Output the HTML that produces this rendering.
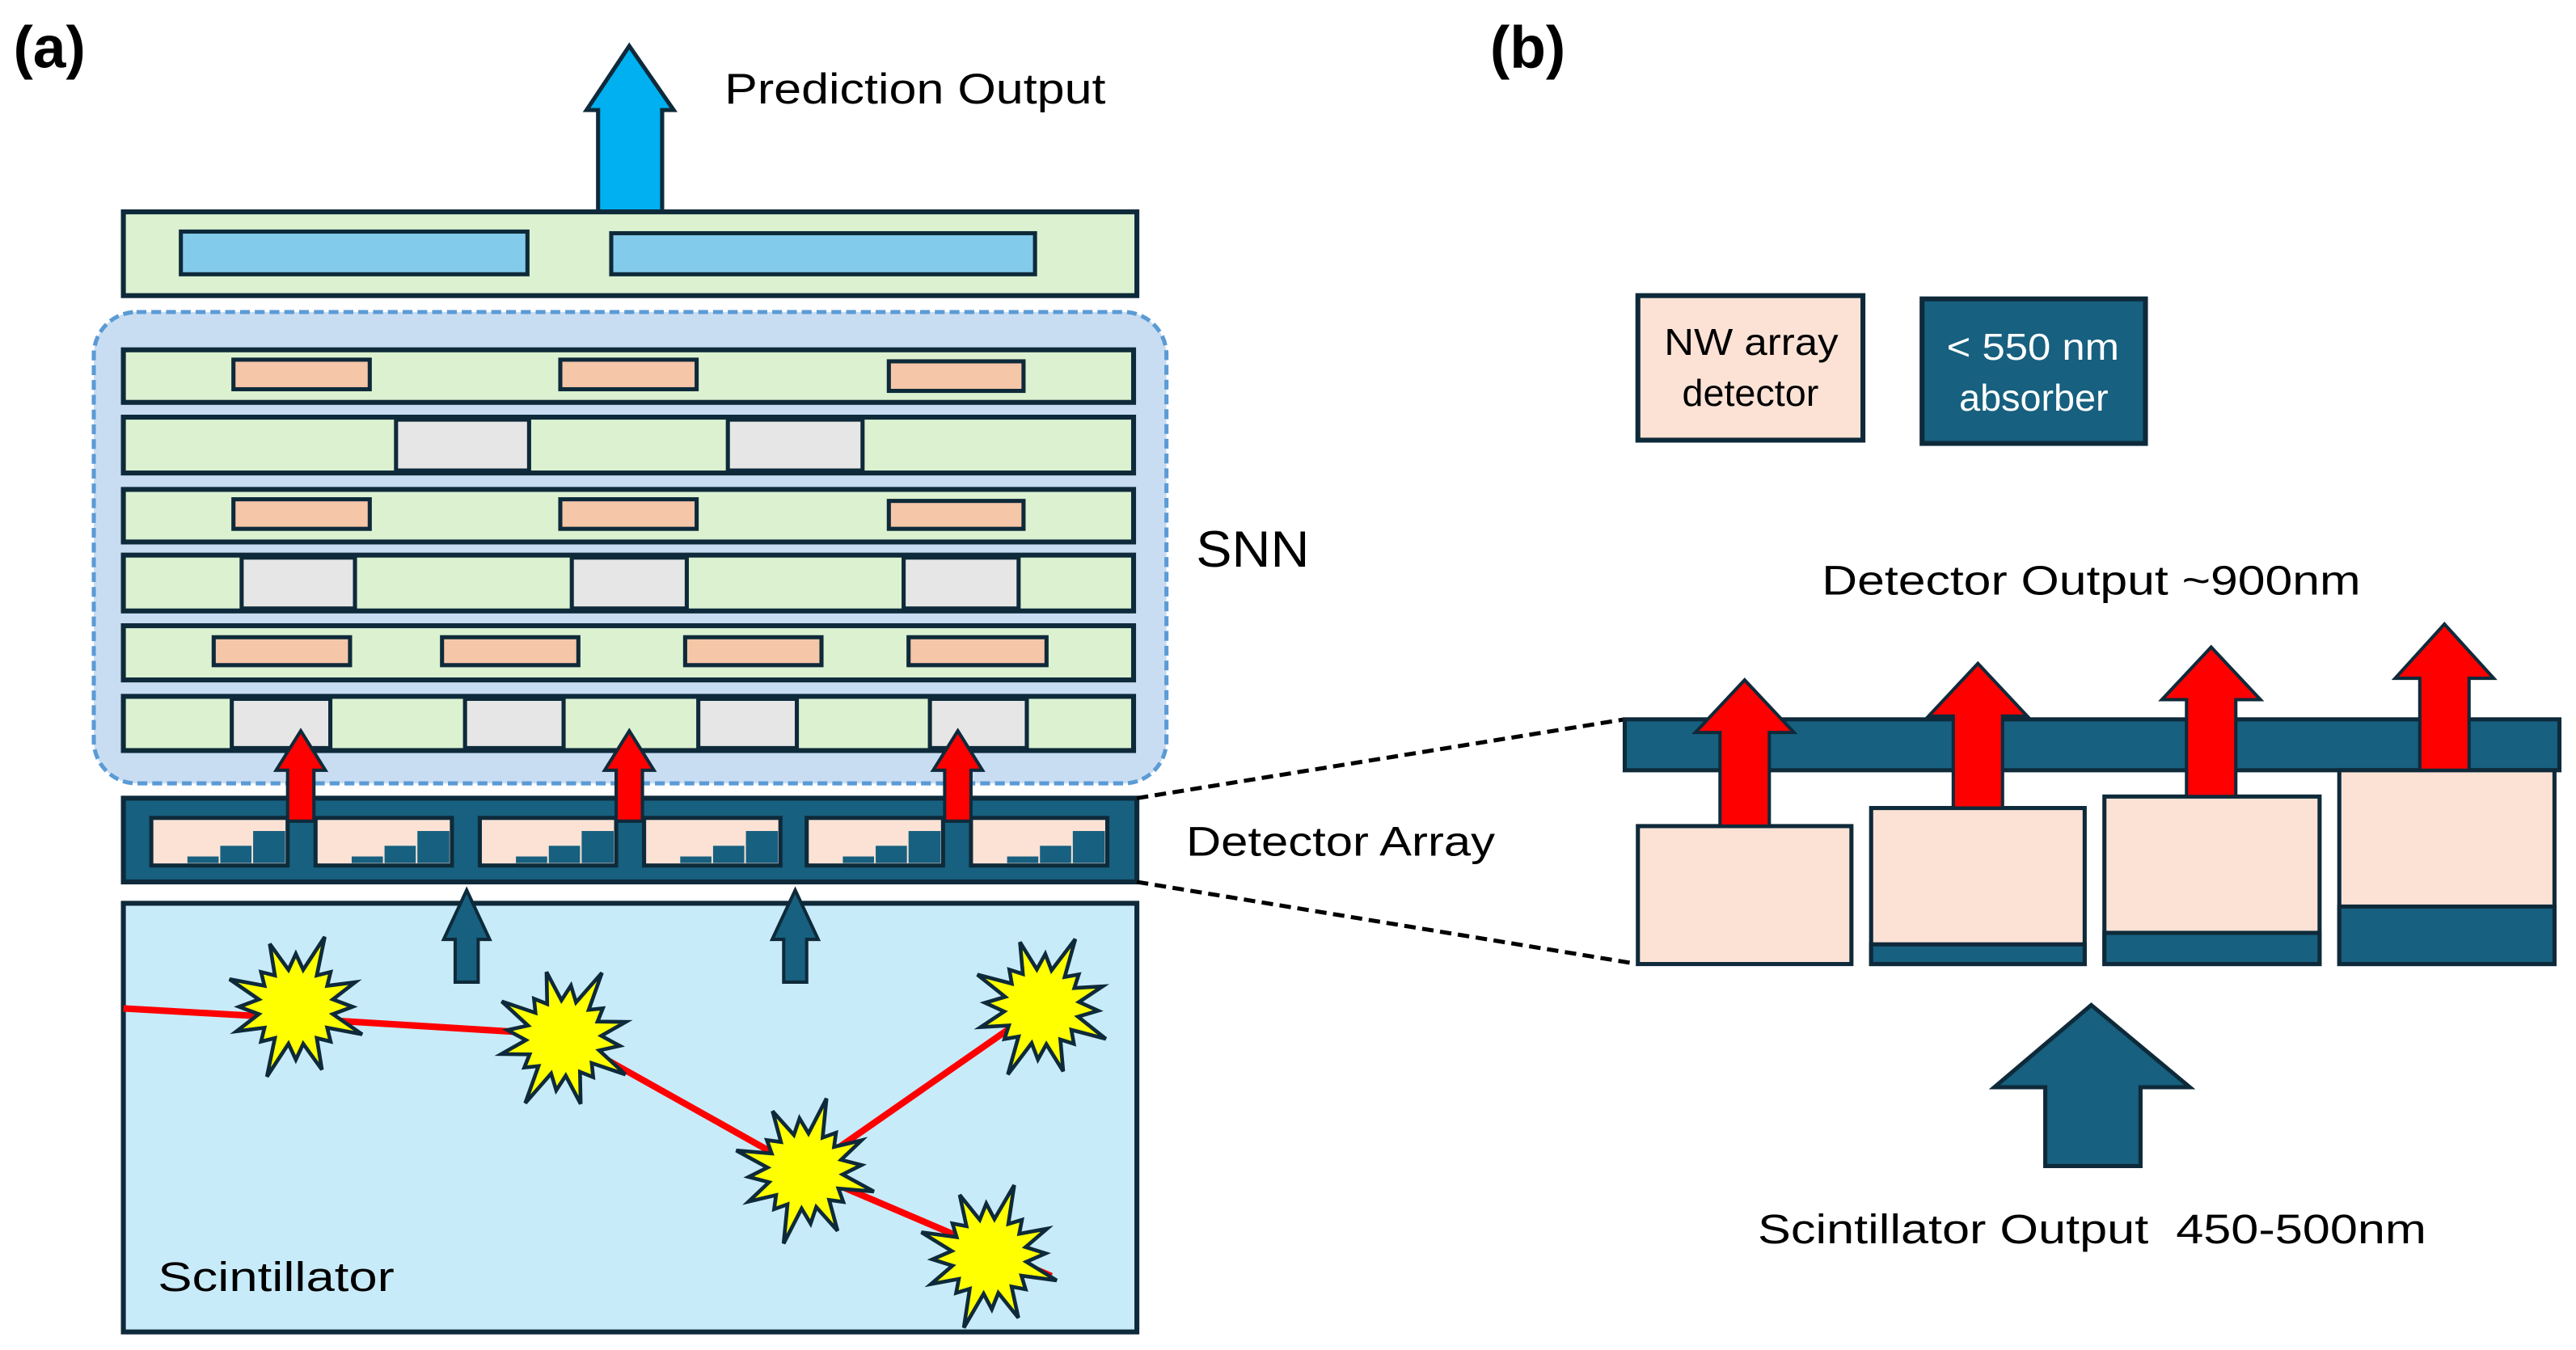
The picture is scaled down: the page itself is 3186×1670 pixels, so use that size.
<!DOCTYPE html>
<html><head><meta charset="utf-8"><style>
html,body{margin:0;padding:0;background:#fff;}
svg{display:block;}
text{font-family:"Liberation Sans",sans-serif;fill:#000;}
</style></head><body>
<svg width="3186" height="1670" viewBox="0 0 1568 822" xmlns="http://www.w3.org/2000/svg">
<defs>
<polygon id="star" points="30,0 19.6,3.9 35.1,14.6 16.6,11.1 18.4,18.4 11.1,16.6 13.8,33.3 3.9,19.6 0,28 -3.9,19.6 -15.3,37 -11.1,16.6 -18.4,18.4 -16.6,11.1 -31.4,13 -19.6,3.9 -30,0 -19.6,-3.9 -35.1,-14.6 -16.6,-11.1 -18.4,-18.4 -11.1,-16.6 -13.8,-33.3 -3.9,-19.6 0,-28 3.9,-19.6 15.3,-37 11.1,-16.6 18.4,-18.4 16.6,-11.1 31.4,-13 19.6,-3.9" fill="#ffff00" stroke="#0e2a3a" stroke-width="2" stroke-linejoin="miter"/>
<g id="cell">
<rect x="0" y="0" width="83" height="29" fill="#fbe2d5" stroke="#0e2a3a" stroke-width="2.5"/>
<rect x="22" y="23.5" width="19" height="4" fill="#17607f"/>
<rect x="42" y="17" width="19" height="10.5" fill="#17607f"/>
<rect x="62" y="8" width="19.5" height="19.5" fill="#17607f"/>
</g>
<polygon id="redarr" points="0,0 15,24 8,24 8,55 -8,55 -8,24 -15,24" fill="#ff0000" stroke="#0e2a3a" stroke-width="2"/>
</defs>

<text x="8" y="41" font-size="36" font-weight="bold">(a)</text>
<text x="907" y="41" font-size="36" font-weight="bold">(b)</text>

<polygon points="383,28 410,67 403,67 403,129 364,129 364,67 357,67" fill="#00b0f0" stroke="#0e2a3a" stroke-width="2.5"/>
<text x="441" y="63" font-size="26" textLength="232" lengthAdjust="spacingAndGlyphs">Prediction Output</text>

<rect x="75" y="129" width="617" height="51" fill="#dbf1d0" stroke="#0e2a3a" stroke-width="3"/>
<rect x="110" y="141" width="211" height="26" fill="#83cbeb" stroke="#0e2a3a" stroke-width="2.5"/>
<rect x="372" y="142" width="258" height="25" fill="#83cbeb" stroke="#0e2a3a" stroke-width="2.5"/>

<rect x="57" y="190" width="653" height="287" rx="26" fill="#c9ddf2" stroke="#5b9bd5" stroke-width="2.5" stroke-dasharray="6,3"/>

<g stroke="#0e2a3a" stroke-width="3">
<rect x="75" y="213" width="615" height="32" fill="#dbf1d0"/>
<rect x="75" y="254" width="615" height="34" fill="#dbf1d0"/>
<rect x="75" y="298" width="615" height="32" fill="#dbf1d0"/>
<rect x="75" y="338" width="615" height="34" fill="#dbf1d0"/>
<rect x="75" y="381" width="615" height="33" fill="#dbf1d0"/>
<rect x="75" y="424" width="615" height="33" fill="#dbf1d0"/>
</g>
<g stroke="#0e2a3a" stroke-width="2.5" fill="#f5c6a8">
<rect x="142" y="219" width="83" height="18"/><rect x="341" y="219" width="83" height="18"/><rect x="541" y="220" width="82" height="18"/>
<rect x="142" y="304" width="83" height="18"/><rect x="341" y="304" width="83" height="18"/><rect x="541" y="305" width="82" height="17"/>
<rect x="130" y="388" width="83" height="17"/><rect x="269" y="388" width="83" height="17"/><rect x="417" y="388" width="83" height="17"/><rect x="553" y="388" width="84" height="17"/>
</g>
<g stroke="#0e2a3a" stroke-width="2.5" fill="#e6e6e6">
<rect x="241" y="255.5" width="81" height="31"/><rect x="443" y="255.5" width="82" height="31"/>
<rect x="147" y="339.5" width="69" height="31"/><rect x="348" y="339.5" width="70" height="31"/><rect x="550" y="339.5" width="70" height="31"/>
<rect x="141" y="425.5" width="60" height="30"/><rect x="283" y="425.5" width="60" height="30"/><rect x="425" y="425.5" width="60" height="30"/><rect x="566" y="425.5" width="59" height="30"/>
</g>
<text x="728" y="345" font-size="31" textLength="69" lengthAdjust="spacingAndGlyphs">SNN</text>

<rect x="75" y="486" width="617" height="51" fill="#17607f" stroke="#0e2a3a" stroke-width="3"/>
<use href="#cell" x="92" y="498"/><use href="#cell" x="192" y="498"/><use href="#cell" x="292" y="498"/>
<use href="#cell" x="392" y="498"/><use href="#cell" x="491" y="498"/><use href="#cell" x="591" y="498"/>
<use href="#redarr" x="183" y="445"/><use href="#redarr" x="383" y="445"/><use href="#redarr" x="583" y="445"/>
<text x="722" y="521" font-size="25" textLength="188" lengthAdjust="spacingAndGlyphs">Detector Array</text>

<rect x="75" y="550" width="617" height="261" fill="#c8ebf9" stroke="#0e2a3a" stroke-width="3"/>
<g fill="#17607f" stroke="#0e2a3a" stroke-width="2">
<polygon points="284,542 298,572 291,572 291,598 277,598 277,572 270,572"/>
<polygon points="484,542 498,572 491,572 491,598 477,598 477,572 470,572"/>
</g>
<g stroke="#ff0000" stroke-width="4" fill="none">
<polyline points="75,614 180,620 342,630 490,713 635,612"/>
<line x1="490" y1="713" x2="640" y2="777"/>
</g>
<use href="#star" transform="translate(180,613) scale(1.15)"/>
<use href="#star" transform="translate(343,632) rotate(8) scale(1.15)"/>
<use href="#star" transform="translate(490,713) rotate(-6) scale(1.15)"/>
<use href="#star" transform="translate(634,613) rotate(4) scale(1.15)"/>
<use href="#star" transform="translate(602,765) rotate(-3) scale(1.15)"/>
<text x="96" y="786" font-size="25" textLength="144" lengthAdjust="spacingAndGlyphs">Scintillator</text>

<g stroke="#000" stroke-width="2.5" stroke-dasharray="7,4">
<line x1="692" y1="486" x2="989" y2="438"/>
<line x1="692" y1="537" x2="997" y2="587"/>
</g>

<rect x="997" y="180" width="137" height="88" fill="#fbe2d5" stroke="#0e2a3a" stroke-width="3"/>
<text x="1013" y="216" font-size="23" textLength="106" lengthAdjust="spacingAndGlyphs">NW array</text>
<text x="1065.5" y="247" font-size="23" text-anchor="middle">detector</text>
<rect x="1170" y="182" width="136" height="88" fill="#17607f" stroke="#0e2a3a" stroke-width="3"/>
<text x="1185" y="219" font-size="23" textLength="105" lengthAdjust="spacingAndGlyphs" style="fill:#fff">&lt; 550 nm</text>
<text x="1238" y="250" font-size="23" text-anchor="middle" style="fill:#fff">absorber</text>

<text x="1109" y="362" font-size="25" textLength="328" lengthAdjust="spacingAndGlyphs">Detector Output ~900nm</text>

<rect x="989" y="438" width="569" height="31" fill="#17607f" stroke="#0e2a3a" stroke-width="2.5"/>
<g stroke="#0e2a3a" stroke-width="2.5">
<rect x="997" y="503" width="130" height="84" fill="#fbe2d5"/>
<rect x="1139" y="492" width="130" height="95" fill="#fbe2d5"/>
<rect x="1139" y="575" width="130" height="12" fill="#17607f"/>
<rect x="1281" y="485" width="131" height="102" fill="#fbe2d5"/>
<rect x="1281" y="568" width="131" height="19" fill="#17607f"/>
<rect x="1424" y="469" width="131" height="118" fill="#fbe2d5"/>
<rect x="1424" y="552" width="131" height="35" fill="#17607f"/>
</g>
<g fill="#ff0000" stroke="#0e2a3a" stroke-width="2">
<polygon points="1062,414 1092,446 1077,446 1077,503 1047,503 1047,446 1032,446"/>
<polygon points="1204,404 1234,436 1219,436 1219,492 1189,492 1189,436 1174,436"/>
<polygon points="1346,394 1376,426 1361,426 1361,485 1331,485 1331,426 1316,426"/>
<polygon points="1488,380 1518,413 1503,413 1503,469 1473,469 1473,413 1458,413"/>
</g>
<polygon points="1273,612 1333,662 1303,662 1303,710 1245,710 1245,662 1214,662" fill="#17607f" stroke="#0e2a3a" stroke-width="2.5"/>
<text x="1070" y="757" font-size="25" textLength="407" lengthAdjust="spacingAndGlyphs" xml:space="preserve">Scintillator Output  450-500nm</text>
</svg>
</body></html>
